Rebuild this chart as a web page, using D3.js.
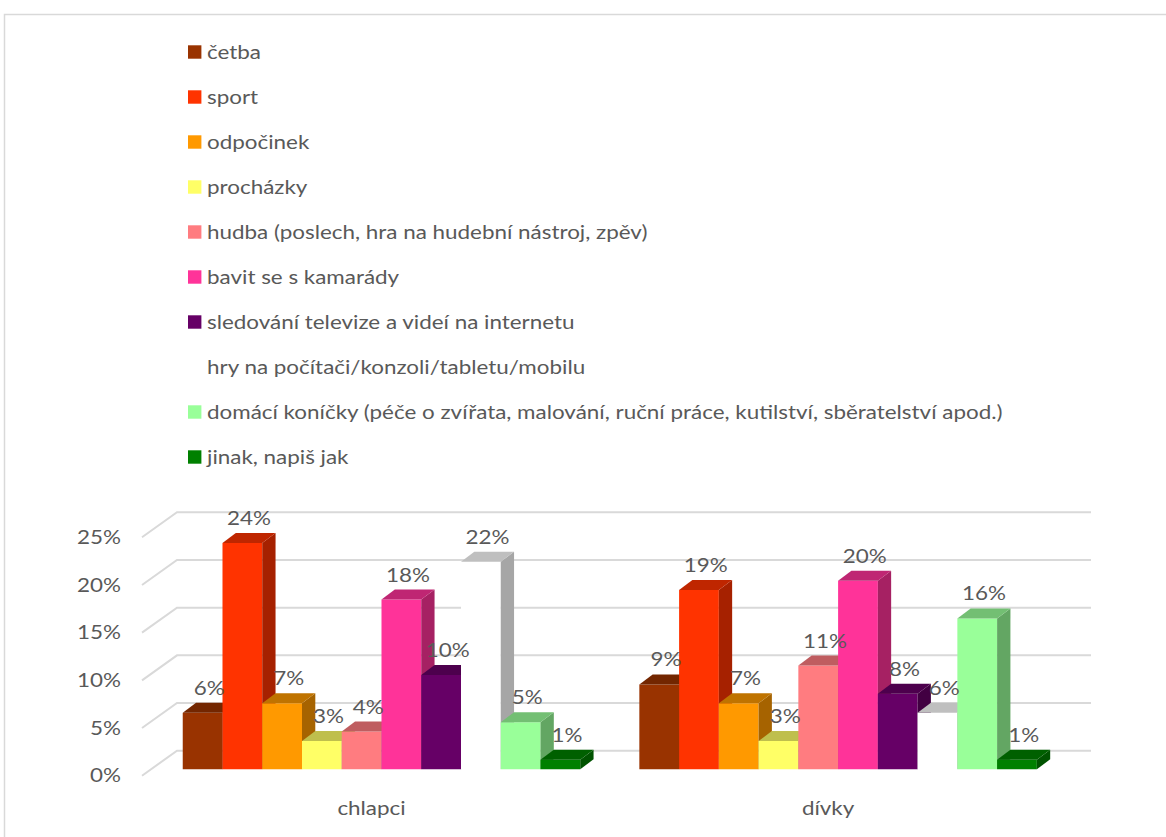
<!DOCTYPE html>
<html>
<head>
<meta charset="utf-8">
<script src="https://cdn.jsdelivr.net/npm/d3@7"></script>
<style>
  body { margin: 0; background: #fff; }
  svg { display: block; }
  text { font-family: Lato, "Open Sans", sans-serif; fill: #595959; }
</style>
</head>
<body>
<svg id="chart" width="1166" height="837"></svg>
<script>
// Survey: how children spend their free time (share of answers)
const categories = ["chlapci", "dívky"];
const seriesNames = [
  "četba",
  "sport",
  "odpočinek",
  "procházky",
  "hudba (poslech, hra na hudební nástroj, zpěv)",
  "bavit se s kamarády",
  "sledování televize a videí na internetu",
  "hry na počítači/konzoli/tabletu/mobilu",
  "domácí koníčky (péče o zvířata, malování, ruční práce, kutilství, sběratelství apod.)",
  "jinak, napiš jak"
];
const seriesColors = ["#993300", "#FF3300", "#FF9900", "#FFFF66", "#FF7C80",
                      "#FF3399", "#660066", "#FFFFFF", "#99FF99", "#008000"];
const chlapciValues = [0.06, 0.24, 0.07, 0.03, 0.04, 0.18, 0.10, 0.22, 0.05, 0.01];
const divkyValues   = [0.09, 0.19, 0.07, 0.03, 0.11, 0.20, 0.08, 0.06, 0.16, 0.01];
const yTicks = [0, 0.05, 0.10, 0.15, 0.20, 0.25];

const valuesByCategory = { "chlapci": chlapciValues, "dívky": divkyValues };

const svg = d3.select("#chart");
const fmt = d3.format(".0%");
const FONT_SIZE = "19px";
const STRETCH = 1.18;   // chart text is rendered horizontally widened

// place a text element at (x, y) with the horizontal widening applied
function placeText(sel, x, y) {
  return sel.attr("x", 0).attr("y", 0)
    .attr("transform", (d, i, n) => {
      const px = typeof x === "function" ? x(d, i, n) : x;
      const py = typeof y === "function" ? y(d, i, n) : y;
      return `translate(${px},${py}) scale(${STRETCH},1)`;
    })
    .style("font-size", FONT_SIZE);
}

// outer chart frame
svg.append("rect")
  .attr("x", 4.5).attr("y", 14.5)
  .attr("width", 1200).attr("height", 900)
  .attr("fill", "none").attr("stroke", "#d9d9d9").attr("stroke-width", 1.5);

// ---- 3D geometry ----
const wallLeft = 177, wallRight = 1091;      // back wall extent
const floorDX = -35, floorDY = 25;           // back wall -> front edge of side wall
const barDX = 13.3, barDY = -10;             // bar depth projection

const yWall = d3.scaleLinear().domain([0, 0.25]).range([750.7, 512.3]);
const yBar  = d3.scaleLinear().domain([0, 0.25]).range([769.3, 769.3 - 235.8]);

const xCat = d3.scaleBand().domain(categories)
  .range([153.2, 1066.4]).paddingInner(0.1294).paddingOuter(0.0647);
const xSer = d3.scaleBand().domain(d3.range(seriesNames.length))
  .range([0, xCat.bandwidth()]);

// gridlines on back wall + diagonals on side wall
const grid = svg.append("g").attr("stroke", "#d9d9d9").attr("stroke-width", 2).attr("fill", "none");
yTicks.forEach(t => {
  const y = yWall(t);
  grid.append("path").attr("d", `M${wallLeft + floorDX},${y + floorDY}L${wallLeft},${y}L${wallRight},${y}`);
});

// value axis labels along the front edge of the side wall
const yAxisScale = d3.scaleLinear().domain([0, 0.25])
  .range([yWall(0) + floorDY, yWall(0.25) + floorDY]);
const yAxis = svg.append("g")
  .attr("transform", "translate(121,0)")
  .call(d3.axisLeft(yAxisScale).tickValues(yTicks).tickFormat(fmt).tickSize(0).tickPadding(0));
yAxis.select(".domain").remove();
yAxis.selectAll("text")
  .attr("transform", `scale(${STRETCH},1)`)
  .style("font-size", FONT_SIZE)
  .style("font-family", "Lato, 'Open Sans', sans-serif")
  .attr("fill", "#595959");

// bars (front, side, top), drawn left to right so neighbours overlap correctly
function shade(c, k) {
  const r = d3.rgb(c);
  return d3.rgb(r.r * k, r.g * k, r.b * k).formatHex();
}
const bars = svg.append("g");
categories.forEach(cat => {
  const vals = valuesByCategory[cat];
  vals.forEach((v, i) => {
    const x0 = xCat(cat) + xSer(i), x1 = x0 + xSer.bandwidth();
    const yb = yBar(0), yt = yBar(v);
    const col = seriesColors[i];
    const g = bars.append("g");
    g.append("path") // front
      .attr("d", `M${x0},${yb}L${x1},${yb}L${x1},${yt}L${x0},${yt}Z`)
      .attr("fill", col);
    g.append("path") // side
      .attr("d", `M${x1},${yb}L${x1 + barDX},${yb + barDY}L${x1 + barDX},${yt + barDY}L${x1},${yt}Z`)
      .attr("fill", shade(col, 0.65));
    g.append("path") // top
      .attr("d", `M${x0},${yt}L${x1},${yt}L${x1 + barDX},${yt + barDY}L${x0 + barDX},${yt + barDY}Z`)
      .attr("fill", shade(col, 0.75));
  });
});

// data labels
const labels = svg.append("g");
categories.forEach(cat => {
  const vals = valuesByCategory[cat];
  vals.forEach((v, i) => {
    const cx = xCat(cat) + xSer(i) + xSer.bandwidth() / 2 + barDX / 2;
    placeText(labels.append("text"), cx, yBar(v) + barDY - 8)
      .attr("text-anchor", "middle")
      .text(fmt(v));
  });
});

// category labels
placeText(
  svg.append("g").selectAll("text").data(categories).join("text"),
  d => xCat(d) + xCat.bandwidth() / 2 - 10, 815)
  .attr("text-anchor", "middle")
  .text(d => d);

// legend
const legend = svg.append("g");
seriesNames.forEach((name, i) => {
  const cy = 52 + i * 45;
  legend.append("rect")
    .attr("x", 188).attr("y", cy - 6.7).attr("width", 13.4).attr("height", 13.4)
    .attr("fill", seriesColors[i]);
  placeText(legend.append("text"), 207, cy)
    .attr("dy", "0.35em")
    .text(name);
});
</script>
</body>
</html>
